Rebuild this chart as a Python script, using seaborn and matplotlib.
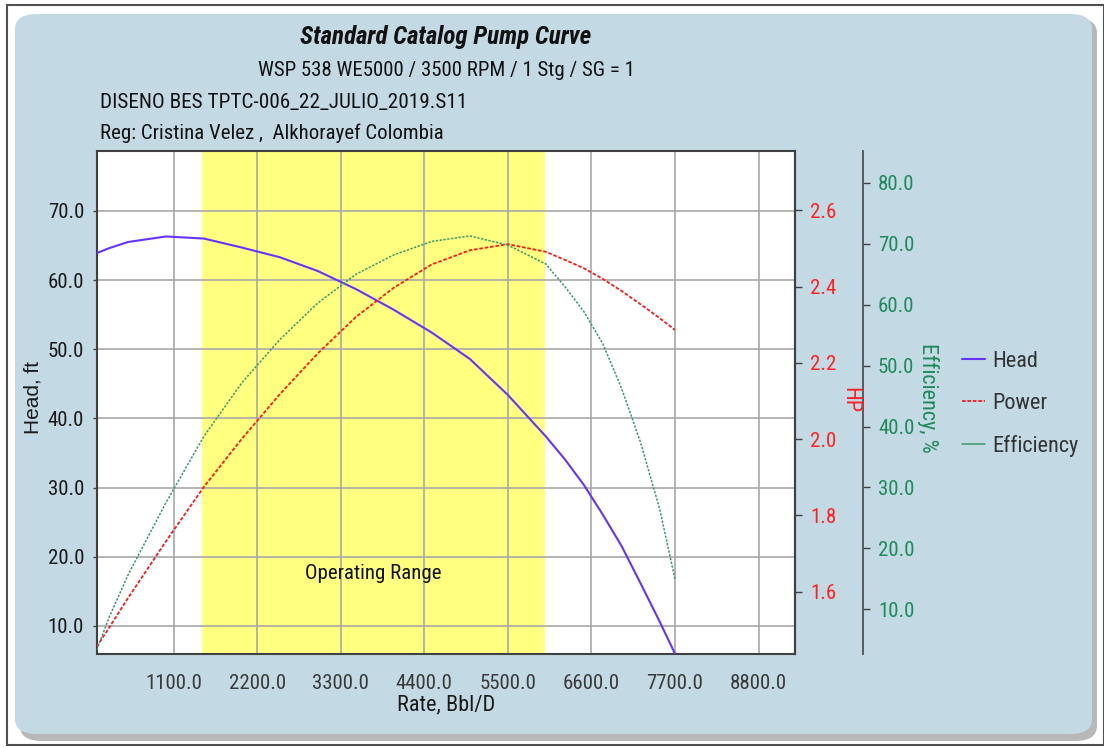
import numpy as np
import pandas as pd
import seaborn as sns
import matplotlib.pyplot as plt
from matplotlib.patches import FancyBboxPatch, Rectangle
from matplotlib.lines import Line2D
from matplotlib.ticker import FormatStrFormatter

# pump catalog curve
rate = [90, 250, 500, 1000, 1500, 2000, 2500, 3000, 3500, 4000, 4500,
        5000, 5500, 6000, 6250, 6500, 6750, 7000, 7250, 7500, 7700]
head = [63.9, 64.6, 65.5, 66.3, 66.0, 64.7, 63.3, 61.3, 58.7, 55.7, 52.4,
        48.6, 43.4, 37.4, 34.1, 30.4, 26.1, 21.5, 16.1, 10.6, 6.0]
power = [1.456, 1.505, 1.583, 1.732, 1.875, 2.001, 2.118, 2.225, 2.320, 2.397, 2.458,
         2.495, 2.511, 2.491, 2.470, 2.448, 2.420, 2.388, 2.353, 2.317, 2.286]
efficiency = [3.3, 8.6, 15.6, 27.5, 38.4, 47.2, 54.3, 60.3, 65.0, 68.2, 70.4,
              71.3, 69.8, 66.7, 63.0, 58.9, 53.6, 46.2, 37.3, 26.4, 15.0]
op_range = [1470, 5990]

rate_ticks = [1100, 2200, 3300, 4400, 5500, 6600, 7700, 8800]
head_ticks = [10, 20, 30, 40, 50, 60, 70]
hp_ticks = [1.6, 1.8, 2.0, 2.2, 2.4, 2.6]
eff_ticks = [10, 20, 30, 40, 50, 60, 70, 80]

df = pd.DataFrame({'rate': rate, 'head': head, 'power': power, 'eff': efficiency})

sns.set_style("white")
plt.rcParams['font.family'] = ['Roboto Condensed', 'Liberation Sans Narrow',
                               'Liberation Sans', 'DejaVu Sans']

W, H = 1104, 747
fig = plt.figure(figsize=(W / 100, H / 100), dpi=100)

def fx(px):
    return px / W

def fy(py):
    return 1 - py / H

# frame + rounded panel with shadow
fig.patches.append(Rectangle((fx(7), fy(745)), fx(1104) - fx(7), fy(5) - fy(745),
                             transform=fig.transFigure, facecolor='white',
                             edgecolor='#505050', lw=1.5, zorder=-3))
fig.patches.append(FancyBboxPatch((fx(20), fy(741)), fx(1077), fy(18) - fy(741),
                                  boxstyle='round,pad=0,rounding_size=0.02',
                                  transform=fig.transFigure, facecolor='#8a8a8a',
                                  edgecolor='none', alpha=0.6, zorder=-2))
fig.patches.append(FancyBboxPatch((fx(15), fy(734)), fx(1077), fy(14) - fy(734),
                                  boxstyle='round,pad=0,rounding_size=0.02',
                                  transform=fig.transFigure, facecolor='#c3d9e4',
                                  edgecolor='none', zorder=-1))

ax = fig.add_axes([fx(96.7), fy(654.3), fx(795) - fx(96.7), fy(150.7) - fy(654.3)])
ax.set_facecolor('white')
ax_hp = ax.twinx()
ax_eff = ax.twinx()

ax.axvspan(op_range[0], op_range[1], color='#ffff80', zorder=0, lw=0)
ax.text(3730, 17.6, 'Operating Range', ha='center', va='center',
        fontsize=15, color='#111111')

head_color = '#6633ff'
power_color = '#ff1a1a'
eff_color = '#3a9a6a'

sns.lineplot(data=df, x='rate', y='head', ax=ax, color=head_color, lw=1.5, zorder=3)
sns.lineplot(data=df, x='rate', y='power', ax=ax_hp, color=power_color, lw=1.3,
             linestyle=(0, (2, 1)))
sns.lineplot(data=df, x='rate', y='eff', ax=ax_eff, color=eff_color, lw=1.1,
             linestyle=(0, (1.5, 1)))

ax.set_xlim(89, 9280)
ax.set_ylim(5.9, 78.7)
ax_hp.set_ylim(1.436, 2.756)
ax_eff.set_ylim(2.6, 85.3)

ax.set_xticks(rate_ticks)
ax.set_yticks(head_ticks)
ax_hp.set_yticks(hp_ticks)
ax_eff.set_yticks(eff_ticks)
for a in (ax, ax_hp, ax_eff):
    a.yaxis.set_major_formatter(FormatStrFormatter('%.1f'))
ax.xaxis.set_major_formatter(FormatStrFormatter('%.1f'))

ax.grid(True, color='#a8a8a8', lw=1.2, zorder=1)
ax.set_axisbelow(True)
ax.tick_params(axis='x', length=8, width=1.2, color='#a8a8a8', labelsize=15,
               labelcolor='#3a3a3a', pad=6)
ax.tick_params(axis='y', length=3, width=1, color='#404040', labelsize=15,
               labelcolor='#1a1a1a', pad=6, left=True)
ax_hp.tick_params(axis='y', length=5, width=1, color='#404040', labelsize=15,
                  labelcolor='#ff2020', pad=6)
ax_eff.tick_params(axis='y', length=5, width=1, color='#404040', labelsize=15,
                   labelcolor='#1e8a5a', pad=6)

for s in ax.spines.values():
    s.set_color('#404040')
    s.set_linewidth(1.5)
for s in ax_hp.spines.values():
    s.set_visible(False)
ax_hp.spines['right'].set_visible(True)
ax_hp.spines['right'].set_color('#404040')
ax_hp.spines['right'].set_linewidth(1.5)
for s in ax_eff.spines.values():
    s.set_visible(False)
ax_eff.spines['right'].set_visible(True)
ax_eff.spines['right'].set_position(('axes', 1.097))
ax_eff.spines['right'].set_color('#505050')
ax_eff.spines['right'].set_linewidth(1.3)

ax.set_xlabel('')
ax.set_ylabel('')
ax_hp.set_ylabel('')
ax_eff.set_ylabel('')

# axis titles
fig.text(fx(446), fy(705), 'Rate, Bbl/D', ha='center', va='center', fontsize=16, color='#1a1a1a')
fig.text(fx(33), fy(398), 'Head, ft', ha='center', va='center', rotation=90,
         fontsize=15, color='#1a1a1a', family=['Liberation Sans', 'DejaVu Sans'])
fig.text(fx(850), fy(400), 'HP', ha='center', va='center', rotation=270,
         fontsize=16, color='#ff2020')
fig.text(fx(928), fy(398), 'Efficiency, %', ha='center', va='center', rotation=270,
         fontsize=16, color='#1e8a5a')

# titles
fig.text(fx(446), fy(37), 'Standard Catalog Pump Curve', ha='center', va='center',
         fontsize=18, fontweight='bold', fontstyle='italic', color='#111111')
fig.text(fx(446), fy(70), 'WSP 538 WE5000 / 3500 RPM / 1 Stg / SG = 1', ha='center',
         va='center', fontsize=15, color='#111111')
fig.text(fx(100), fy(102), 'DISENO BES TPTC-006_22_JULIO_2019.S11', ha='left',
         va='center', fontsize=15.3, color='#111111')
fig.text(fx(100), fy(133), 'Reg: Cristina Velez ,  Alkhorayef Colombia', ha='left',
         va='center', fontsize=15, color='#111111')

handles = [Line2D([], [], color=head_color, lw=1.5),
           Line2D([], [], color=power_color, lw=1.3, ls=(0, (2, 1))),
           Line2D([], [], color=eff_color, lw=1.1)]
fig.legend(handles, ['Head', 'Power', 'Efficiency'], loc='upper left',
           bbox_to_anchor=(fx(942), fy(331)), frameon=False, fontsize=16,
           handlelength=1.05, labelspacing=0.95, handletextpad=0.3,
           labelcolor='#333333')

plt.savefig('out.png', dpi=100)
